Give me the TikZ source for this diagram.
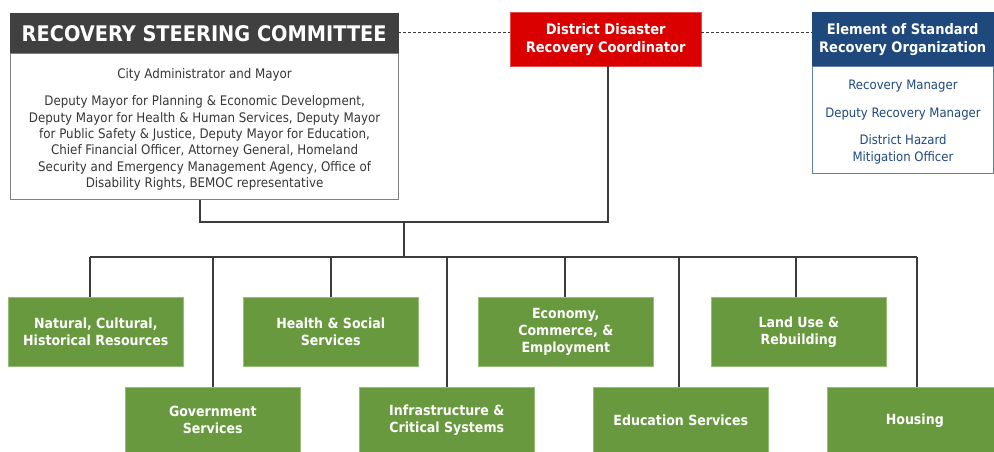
\documentclass[tikz,border=0pt]{standalone}
\usepackage{fontspec}
\setmainfont{DejaVu Sans Condensed}
\definecolor{hdrgray}{RGB}{64,64,64}
\definecolor{ddred}{RGB}{218,0,0}
\definecolor{esblue}{RGB}{31,73,125}
\definecolor{rsfgreen}{RGB}{104,153,62}
\definecolor{rsfedge}{RGB}{150,190,120}
\definecolor{lnk}{RGB}{60,60,60}
\definecolor{txtgray}{RGB}{55,55,55}
\tikzset{
  box/.style={rectangle, anchor=north west, inner sep=0pt, align=center},
  rsf/.style={box, fill=rsfgreen, draw=rsfedge, line width=0.6pt, minimum width=175pt, minimum height=69pt, text=white, font=\bfseries\fontsize{14}{17}\selectfont},
  rsf2/.style={rsf, minimum height=66pt},
  link/.style={draw=lnk, line width=1.3pt},
  dlink/.style={draw=lnk, line width=0.9pt, dash pattern=on 3pt off 2pt},
}
\begin{document}
\begin{tikzpicture}[x=1pt,y=-1pt]
\useasboundingbox (0,0) rectangle (994,451);
% Steering committee
\node[box, fill=hdrgray, draw=hdrgray, minimum width=388pt, minimum height=40pt, text=white, font=\bfseries\fontsize{21.5}{24}\selectfont] (sch) at (10,13) {RECOVERY STEERING COMMITTEE};
\node[box, draw=gray, line width=1.2pt, fill=white, minimum width=388pt, minimum height=146pt] (scb) at (10,53) {};
\node[align=center, inner sep=0pt, text=txtgray, font=\fontsize{13.2}{16.3}\selectfont] (scbt) at ([yshift=-2.5pt]scb.center)
{City Administrator and Mayor\\[11.5pt]
Deputy Mayor for Planning \& Economic Development,\\
Deputy Mayor for Health \& Human Services, Deputy Mayor\\
for Public Safety \& Justice, Deputy Mayor for Education,\\
Chief Financial Officer, Attorney General, Homeland\\
Security and Emergency Management Agency, Office of\\
Disability Rights, BEMOC representative};
% DDRC
\node[box, fill=ddred, draw=ddred!70!white, minimum width=191pt, minimum height=54pt, text=white, font=\bfseries\fontsize{14.5}{18}\selectfont] (ddrc) at (510,12) {District Disaster\\Recovery Coordinator};
% Element of standard recovery org
\node[box, fill=esblue, draw=esblue, minimum width=181pt, minimum height=54pt, text=white, font=\bfseries\fontsize{14.5}{18}\selectfont] (esh) at (812,12) {Element of Standard\\Recovery Organization};
\node[box, draw=esblue!70!white, line width=1pt, fill=white, minimum width=181pt, minimum height=107pt] (esb) at (812,66) {};
\node[align=center, inner sep=0pt, text=esblue, font=\fontsize{13}{17}\selectfont] (esbt) at ([yshift=-2.5pt]esb.center)
{Recovery Manager\\[11pt]Deputy Recovery Manager\\[10pt]District Hazard\\Mitigation Officer};
% dashed links
\draw[dlink] (sch.east |- 0,32) -- (ddrc.west |- 0,32);
\draw[dlink] (ddrc.east |- 0,32) -- (esh.west |- 0,32);
% RSF boxes
\node[rsf] (nat) at (8,297) {Natural, Cultural,\\Historical Resources};
\node[rsf] (hss) at (243,297) {Health \& Social\\Services};
\node[rsf] (eco) at (478,297) {Economy,\\Commerce, \&\\Employment};
\node[rsf] (lur) at (711,297) {Land Use \&\\Rebuilding};
\node[rsf2] (gov) at (125,387) {Government\\Services};
\node[rsf2] (inf) at (359,387) {Infrastructure \&\\Critical Systems};
\node[rsf2] (edu) at (593,387) {Education Services};
\node[rsf2] (hou) at (827,387) {Housing};
% tree links
\coordinate (ja) at (200,222);
\coordinate (jb) at (608,222);
\coordinate (jc) at (404,222);
\coordinate (bl) at (90,257);
\coordinate (br) at (917,257);
\draw[link] (scb.south -| ja) -- (ja) -- (jb) -- (ddrc.south -| jb);
\draw[link] (jc) -- (jc |- bl);
\draw[link] (bl) -- (br);
\draw[link] (bl) -- (bl |- nat.north);
\draw[link] (331,257) -- (hss.north -| 331,0);
\draw[link] (565,257) -- (eco.north -| 565,0);
\draw[link] (796,257) -- (lur.north -| 796,0);
\draw[link] (213,257) -- (gov.north -| 213,0);
\draw[link] (447,257) -- (inf.north -| 447,0);
\draw[link] (679,257) -- (edu.north -| 679,0);
\draw[link] (br) -- (hou.north -| br);
\end{tikzpicture}
\end{document}
